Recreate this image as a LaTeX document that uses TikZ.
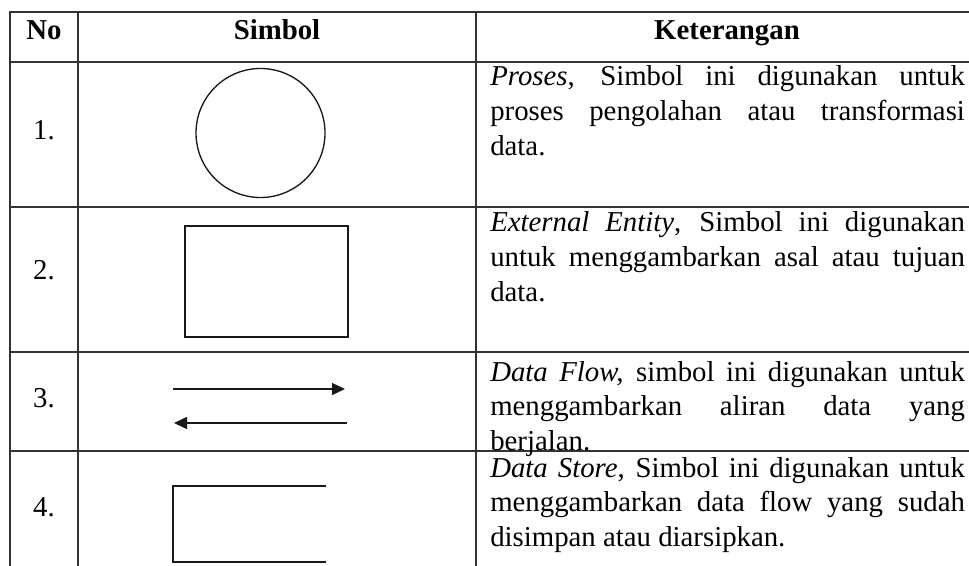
\documentclass[tikz,border=0pt]{standalone}
\usepackage{fontspec}
\setmainfont{Liberation Serif}
\usetikzlibrary{arrows.meta,positioning}

\begin{document}
\begin{tikzpicture}
	[x=0.75pt, y=-0.75pt, inner sep=0pt,
	font=\fontsize{21.6}{26.2}\selectfont,
	garis/.style	= {draw=black!80, line width=0.8pt, line cap=rect},
	simbol/.style	= {draw=black!90, line width=1pt, inner sep=0pt},
	judul/.style	= {anchor=base, font=\fontsize{21.6}{26.2}\selectfont\bfseries},
	nomor/.style	= {anchor=base},
	ket/.style		= {anchor=base west, text width=356pt, align=justify},
	aliran/.style	= {simbol, -{Triangle[length=9.75pt, width=9pt]}}]

	\useasboundingbox (0,0) rectangle (969,566);

	% garis tabel
	\foreach \y in {12,62,207,352,451}
		\draw [garis] (10,\y) -- (969,\y);
	\foreach \x in {10,78,476}
		\draw [garis] (\x,12) -- (\x,570);

	% kepala tabel
	\node [judul] at (44,40)	(h1) {No};
	\node [judul] at (277,40)	(h2) {Simbol};
	\node [judul] at (727,40)	(h3) {Keterangan};

	\node [nomor] at (44,140)	(n1) {1.};
	\node [nomor] at (44,280)	(n2) {2.};
	\node [nomor] at (44,407)	(n3) {3.};
	\node [nomor] at (44,516)	(n4) {4.};

	% simbol
	\node [simbol, circle, minimum size=96.75pt] at (260.5,133) (proses) {};
	\node [simbol, rectangle, minimum width=122.25pt, minimum height=83.25pt] at (266.5,281.5) (entitas) {};

	\coordinate (a1) at (173,389);
	\coordinate (b1) at (345,389);
	\coordinate (a2) at (174,423);
	\coordinate (b2) at (347,423);
	\draw [aliran] (a1) -- (b1);
	\draw [aliran] (b2) -- (a2);

	\coordinate (s1) at (326,486);
	\coordinate (s2) at (173,486);
	\coordinate (s3) at (173,562);
	\coordinate (s4) at (326,562);
	\draw [simbol] (s1) -- (s2) -- (s3) -- (s4);

	% keterangan
	\node [ket] at (490,86)		(k1) {\textit{Proses}, Simbol ini digunakan untuk\linebreak proses pengolahan atau transformasi\linebreak data.};
	\node [ket] at (490,232)	(k2) {\textit{External Entity}, Simbol ini digunakan\linebreak untuk menggambarkan asal atau tujuan\linebreak data.};
	\node [ket] at (490,381)	(k3) {\textit{Data Flow,} simbol ini digunakan untuk\linebreak menggambarkan aliran data yang\linebreak berjalan.};
	\node [ket] at (490,477)	(k4) {\textit{Data Store}, Simbol ini digunakan untuk\linebreak menggambarkan data flow yang sudah\linebreak disimpan atau diarsipkan.};
\end{tikzpicture}
\end{document}
